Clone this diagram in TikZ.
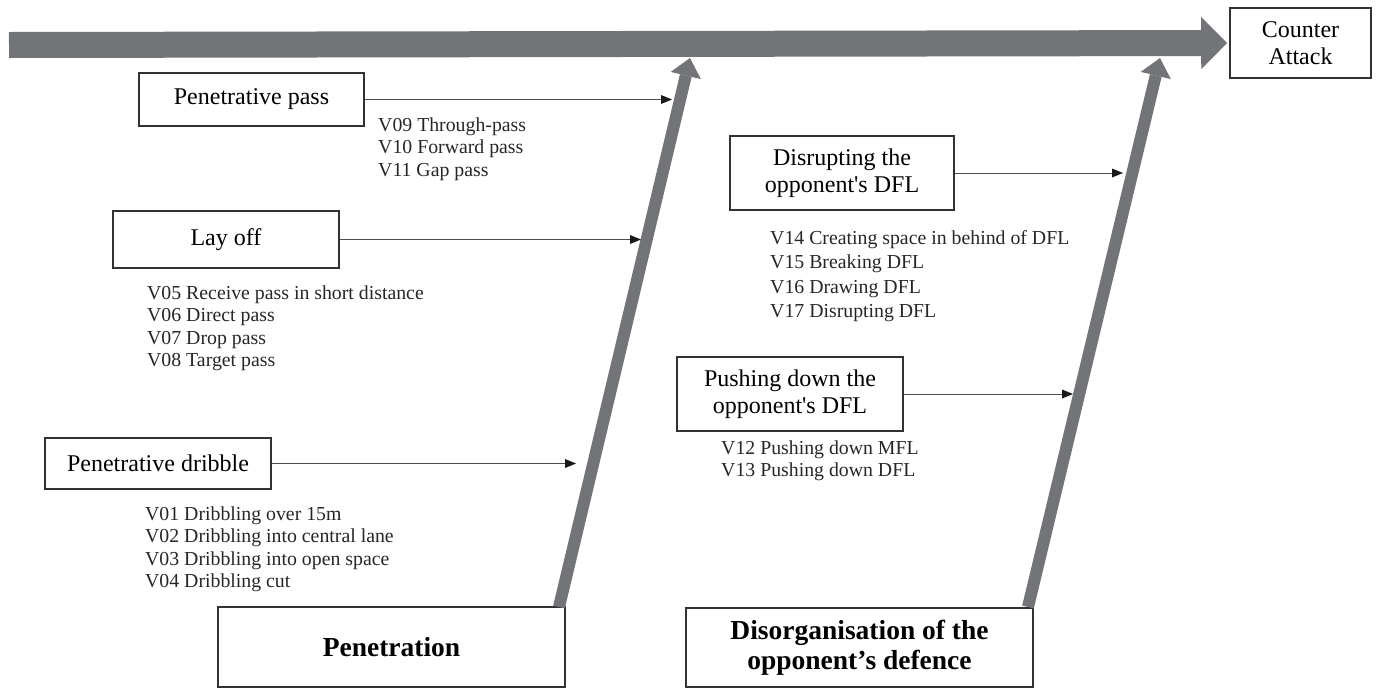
\documentclass[tikz,border=0pt]{standalone}
\usepackage{fontspec}
\setmainfont{Liberation Serif}[Ligatures=TeXOff]
\usetikzlibrary{arrows.meta}
\definecolor{bonegray}{RGB}{115,116,120}
\definecolor{boxline}{RGB}{50,50,50}
\begin{document}
\begin{tikzpicture}[x=1pt,y=-1pt,
  catbox/.style={draw=boxline,line width=1.6pt,fill=white,inner sep=0pt,align=center,
    font=\fontsize{24}{27.5}\selectfont},
  headbox/.style={draw=boxline,line width=1.6pt,fill=white,inner sep=0pt,align=center,
    font=\fontsize{27.5}{30}\selectfont\bfseries},
  vlist/.style={inner sep=0pt,align=left,anchor=north west,text=black!85,
    font=\fontsize{19.8}{22.5}\selectfont},
  bone/.style={draw=bonegray,line width=12pt,
    -{Triangle[width=31pt,length=18pt,line width=0pt]}},
  spine/.style={draw=bonegray,line width=26pt,
    -{Triangle[width=52pt,length=26pt,line width=0pt]}},
  feed/.style={draw=black!70,line width=0.9pt,
    -{Triangle[width=9pt,length=11pt,line width=0pt,fill=black!90]}}
]
\useasboundingbox (0,0) rectangle (1376,689);

% effect box
\node[catbox,minimum width=141pt,minimum height=70pt] (ca) at (1300.5,43) {Counter\\Attack};

% main spine
\coordinate (sp0) at (9,45);
\draw[spine,shorten >=2pt] (sp0) -- (ca.west);

% head boxes
\node[headbox,minimum width=347pt,minimum height=80pt] (pen) at (391.5,647) {Penetration};
\node[headbox,minimum width=347pt,minimum height=79pt] (dis) at (859.5,647.5) {Disorganisation of the\\opponent’s defence};

% bones
\coordinate (b1s) at (559,607);
\coordinate (b1e) at (690,58);
\coordinate (b2s) at (1028,607);
\coordinate (b2e) at (1160,58);
\draw[bone] (b1s) -- (b1e);
\draw[bone] (b2s) -- (b2e);

% cause boxes
\node[catbox,minimum width=225pt,minimum height=53pt] (pp) at (251.5,99.5) {Penetrative pass};
\node[catbox,minimum width=226pt,minimum height=57pt] (lo) at (226,239.5) {Lay off};
\node[catbox,minimum width=226pt,minimum height=51pt] (pd) at (158,463.5) {Penetrative dribble};
\node[catbox,minimum width=224pt,minimum height=74pt] (dr) at (842,173) {Disrupting the\\opponent's DFL};
\node[catbox,minimum width=226pt,minimum height=74pt] (pu) at (790,394) {Pushing down the\\opponent's DFL};

% arrow ends on the bones
\coordinate (e1) at (672,99.5);
\coordinate (e2) at (641,239.5);
\coordinate (e3) at (576,463.5);
\coordinate (e4) at (1123,173);
\coordinate (e5) at (1073,394);
\draw[feed] (pp.east) -- (e1);
\draw[feed] (lo.east) -- (e2);
\draw[feed] (pd.east) -- (e3);
\draw[feed] (dr.east) -- (e4);
\draw[feed] (pu.east) -- (e5);

% variable lists
\node[vlist] (l1) at (378,117.5) {V09 Through-pass\\V10 Forward pass\\V11 Gap pass};
\node[vlist] (l2) at (147,285.5) {V05 Receive pass in short distance\\V06 Direct pass\\V07 Drop pass\\V08 Target pass};
\node[vlist] (l3) at (145,506.5) {V01 Dribbling over 15m\\V02 Dribbling into central lane\\V03 Dribbling into open space\\V04 Dribbling cut};
\node[vlist,font=\fontsize{19.8}{24.3}\selectfont] (l4) at (770,230.5) {V14 Creating space in behind of DFL\\V15 Breaking DFL\\V16 Drawing DFL\\V17 Disrupting DFL};
\node[vlist] (l5) at (721,440.5) {V12 Pushing down MFL\\V13 Pushing down DFL};
\end{tikzpicture}
\end{document}
